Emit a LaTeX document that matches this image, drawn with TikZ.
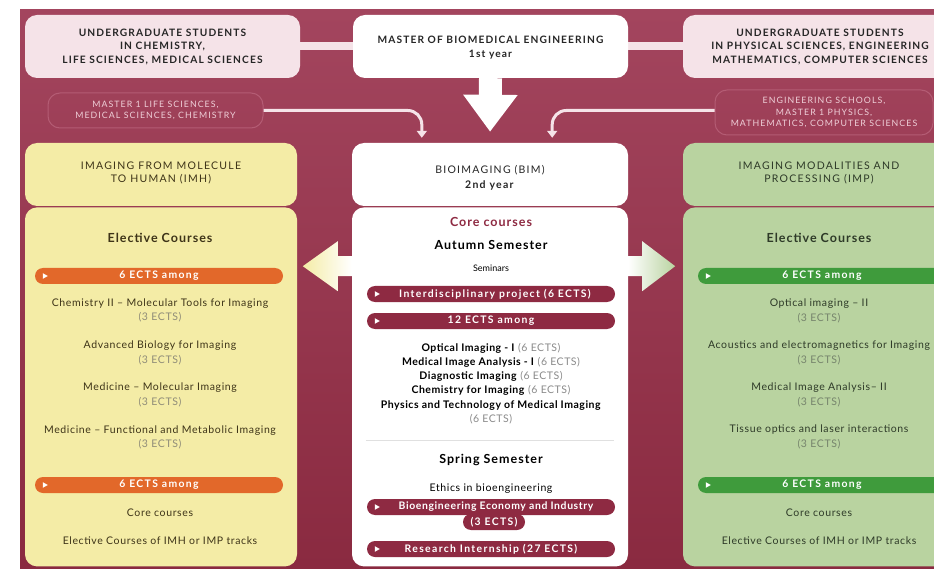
\documentclass[tikz,border=0pt]{standalone}
\usepackage{fontspec}
\setmainfont{Lato}
\usetikzlibrary{positioning,calc,arrows.meta}

\definecolor{bgtop}{HTML}{A3455E}
\definecolor{bgbot}{HTML}{8A2A40}
\definecolor{pinkbox}{HTML}{F5E3E8}
\definecolor{pinktxt}{HTML}{EFCFD8}
\definecolor{pinkline}{HTML}{B45C74}
\definecolor{imhfill}{HTML}{F4ECA6}
\definecolor{impfill}{HTML}{B9D3A0}
\definecolor{orangebar}{HTML}{E2682A}
\definecolor{greenbar}{HTML}{3F9B3C}
\definecolor{maroonbar}{HTML}{8E2A42}
\definecolor{imhtxt}{HTML}{3E3418}
\definecolor{imptxt}{HTML}{2E3A28}
\definecolor{imhgray}{HTML}{8F8C78}
\definecolor{impgray}{HTML}{76846C}
\definecolor{bimgray}{HTML}{8A8A8A}

\newcommand\topfont{\fontsize{10.2}{13.5}\selectfont\bfseries\addfontfeatures{LetterSpace=11}}
\newcommand\capsfont{\fontsize{10.5}{13}\selectfont\addfontfeatures{LetterSpace=12}}
\newcommand\smallcaps{\fontsize{8.8}{11.5}\selectfont\addfontfeatures{LetterSpace=12}}
\newcommand\bodyfont{\fontsize{10.5}{14.5}\selectfont\addfontfeatures{LetterSpace=6}}
\newcommand\headfont{\fontsize{12.5}{15}\selectfont\bfseries\addfontfeatures{LetterSpace=8}}
\newcommand\listfont{\fontsize{10.5}{14.2}\selectfont\addfontfeatures{LetterSpace=5}}
\newcommand\barfont{\fontsize{10.4}{13}\selectfont\bfseries\addfontfeatures{LetterSpace=13}}

\tikzset{
  topbox/.style={fill=pinkbox, rounded corners=12pt, minimum height=63pt,
    align=center, font=\topfont, text=black!85},
  outlinebox/.style={draw=pinkline, line width=1pt, rounded corners=12pt,
    align=center, font=\smallcaps, text=pinktxt},
  titlebox/.style={rounded corners=12pt, minimum height=63pt, align=center,
    font=\capsfont},
  panel/.style={rounded corners=12pt, minimum height=359pt},
  ectsbar/.style={rounded corners=8pt, minimum height=16pt, minimum width=248pt,
    text=white, font=\barfont, inner sep=0pt},
  course/.style={align=center, font=\bodyfont},
  pinkarrow/.style={draw=pinkbox, line width=3pt, rounded corners=14pt,
    -{Triangle[width=10pt,length=7pt]}},
}
% small white marker at the left end of a bar
\newcommand\barmark[1]{\fill[white] ($(#1.west)+(8,-2.8)$) -- ++(5,2.8) -- ++(-5,2.8) -- cycle;}

\begin{document}
\begin{tikzpicture}[x=1pt,y=-1pt]
  \useasboundingbox (0,0) rectangle (934,569);
  \clip (0,0) rectangle (934,569);
  \fill[white] (0,0) rectangle (934,569);
  \shade[top color=bgtop, bottom color=bgbot] (20,10) rectangle (934,569);

  % first year
  \fill[pinkbox] (300,42) rectangle (683,50);
  \node[topbox, minimum width=275pt] (ugchem) at (162.5,46.5)
    {UNDERGRADUATE STUDENTS\\IN CHEMISTRY,\\LIFE SCIENCES, MEDICAL SCIENCES};
  \node[topbox, fill=white, minimum width=275pt] (mbe) at (490.5,46.5)
    {\\[-4pt]MASTER OF BIOMEDICAL ENGINEERING\\1st year};
  \node[topbox, minimum width=274pt] (ugphys) at (820,46.5)
    {UNDERGRADUATE STUDENTS\\IN PHYSICAL SCIENCES, ENGINEERING\\MATHEMATICS, COMPUTER SCIENCES};

  \node[outlinebox, minimum width=215pt, minimum height=35pt] (mlife) at (155.5,110.5)
    {MASTER 1 LIFE SCIENCES,\\MEDICAL SCIENCES, CHEMISTRY};
  \node[outlinebox, minimum width=218pt, minimum height=45pt] (mphys) at (824,112.5)
    {ENGINEERING SCHOOLS,\\MASTER 1 PHYSICS,\\MATHEMATICS, COMPUTER SCIENCES};

  % second year headers
  \node[titlebox, fill=imhfill, text=imhtxt, minimum width=272pt] (imh) at (161,174.5)
    {IMAGING FROM MOLECULE\\TO HUMAN (IMH)\\[-9pt]};
  \node[titlebox, fill=white, text=black!85, minimum width=276pt] (bim) at (490,174.5)
    {\\[1pt]BIOIMAGING (BIM)\\[2pt]\textbf{2nd year}};
  \node[titlebox, fill=impfill, text=imptxt, minimum width=272pt] (imp) at (819,174.5)
    {IMAGING MODALITIES AND\\PROCESSING (IMP)\\[-9pt]};

  \node[panel, fill=imhfill, minimum width=272pt, below=1pt of imh] (imhbody) {};
  \node[panel, fill=white, minimum width=276pt, below=1pt of bim] (bimbody) {};
  \node[panel, fill=impfill, minimum width=272pt, below=1pt of imp] (impbody) {};

  % arrows
  \draw[white, line width=23pt, -{Triangle[width=52pt,length=37pt]}, shorten >=11pt]
    (mbe.south) -- (bim.north);
  \draw[pinkarrow] (mlife.east) -| ([xshift=70pt,yshift=5pt]bim.north west);
  \draw[pinkarrow] (mphys.west |- mlife.east) -| ([xshift=-76pt,yshift=5pt]bim.north east);

  \coordinate (la) at ([yshift=-59pt]bimbody.north west);
  \coordinate (ra) at ([yshift=-59pt]bimbody.north east);
  \shade[left color=imhfill, right color=white]
    ($(la)+(0,-10)$) -- ++(-14,0) -- ++(0,-15) -- ($(la)+(-49,0)$)
    -- ($(la)+(-14,25)$) -- ++(0,-15) -- ($(la)+(0,10)$) -- cycle;
  \shade[left color=white, right color=impfill]
    ($(ra)+(0,-10)$) -- ++(14,0) -- ++(0,-15) -- ($(ra)+(47,0)$)
    -- ($(ra)+(14,25)$) -- ++(0,-15) -- ($(ra)+(0,10)$) -- cycle;

  % IMH track
  \begin{scope}[text=imhtxt]
    \node[course, font=\headfont] (imhel) at (160,238) {Elective Courses};
    \node[ectsbar, fill=orangebar] (imhbar1) at (159,276) {6 ECTS among};
    \node[course] (imhc1) at (160,310.5) {Chemistry II – Molecular Tools for Imaging\\{\color{imhgray}(3 ECTS)}};
    \node[course] (imhc2) at (160,353) {Advanced Biology for Imaging\\{\color{imhgray}(3 ECTS)}};
    \node[course] (imhc3) at (160,395) {Medicine – Molecular Imaging\\{\color{imhgray}(3 ECTS)}};
    \node[course] (imhc4) at (160,437.5) {Medicine – Functional and Metabolic Imaging\\{\color{imhgray}(3 ECTS)}};
    \node[ectsbar, fill=orangebar] (imhbar2) at (159,485) {6 ECTS among};
    \node[course] (imhcore) at (160,513) {Core courses};
    \node[course] (imhoth) at (160,541) {Elective Courses of IMH or IMP tracks};
  \end{scope}
  \barmark{imhbar1}
  \barmark{imhbar2}

  % BIM core
  \node[course, font=\headfont, text=maroonbar] (core) at (491,222) {Core courses};
  \node[course, font=\headfont] (autumn) at (491,245) {Autumn Semester};
  \node[course, font=\fontsize{9}{11}\selectfont] (semin) at (491,268) {Seminars};
  \node[ectsbar, fill=maroonbar] (bimbar1) at (491,294) {\hspace{8pt}Interdisciplinary project (6 ECTS)};
  \node[ectsbar, fill=maroonbar] (bimbar2) at (491,321) {12 ECTS among};
  \node[course, font=\listfont] (bimlist) at (491,383.5)
    {\textbf{Optical Imaging - I} {\color{bimgray}(6 ECTS)}\\
     \textbf{Medical Image Analysis - I} {\color{bimgray}(6 ECTS)}\\
     \textbf{Diagnostic Imaging} {\color{bimgray}(6 ECTS)}\\
     \textbf{Chemistry for Imaging} {\color{bimgray}(6 ECTS)}\\
     \textbf{Physics and Technology of Medical Imaging}\\
     {\color{bimgray}(6 ECTS)}};
  \draw[black!12, line width=1pt] ([xshift=14pt]bimbody.west |- 0,440) -- ([xshift=-14pt]bimbody.east |- 0,440);
  \node[course, font=\headfont] (spring) at (491,460) {Spring Semester};
  \node[course] (ethics) at (491,489) {Ethics in bioengineering};
  \node[ectsbar, fill=maroonbar, minimum width=62pt, minimum height=16pt, inner xsep=3pt] (bimtab) at (494,522) {(3 ECTS)};
  \node[ectsbar, fill=maroonbar] (bimbar3) at (491,507) {\hspace{10pt}\addfontfeatures{LetterSpace=6}Bioengineering Economy and Industry};
  \node[ectsbar, fill=maroonbar] (bimbar4) at (491,549) {Research Internship (27 ECTS)};
  \barmark{bimbar1}
  \barmark{bimbar2}
  \barmark{bimbar3}
  \barmark{bimbar4}

  % IMP track
  \begin{scope}[text=imptxt]
    \node[course, font=\headfont] (impel) at (819,238) {Elective Courses};
    \node[ectsbar, fill=greenbar] (impbar1) at (822,276) {6 ECTS among};
    \node[course] (impc1) at (819,311) {Optical imaging – II\\{\color{impgray}(3 ECTS)}};
    \node[course] (impc2) at (819,353) {Acoustics and electromagnetics for Imaging\\{\color{impgray}(3 ECTS)}};
    \node[course] (impc3) at (819,395) {Medical Image Analysis– II\\{\color{impgray}(3 ECTS)}};
    \node[course] (impc4) at (819,437) {Tissue optics and laser interactions\\{\color{impgray}(3 ECTS)}};
    \node[ectsbar, fill=greenbar] (impbar2) at (822,485) {6 ECTS among};
    \node[course] (impcore) at (819,513) {Core courses};
    \node[course] (impoth) at (819,541) {Elective Courses of IMH or IMP tracks};
  \end{scope}
  \barmark{impbar1}
  \barmark{impbar2}
\end{tikzpicture}
\end{document}
